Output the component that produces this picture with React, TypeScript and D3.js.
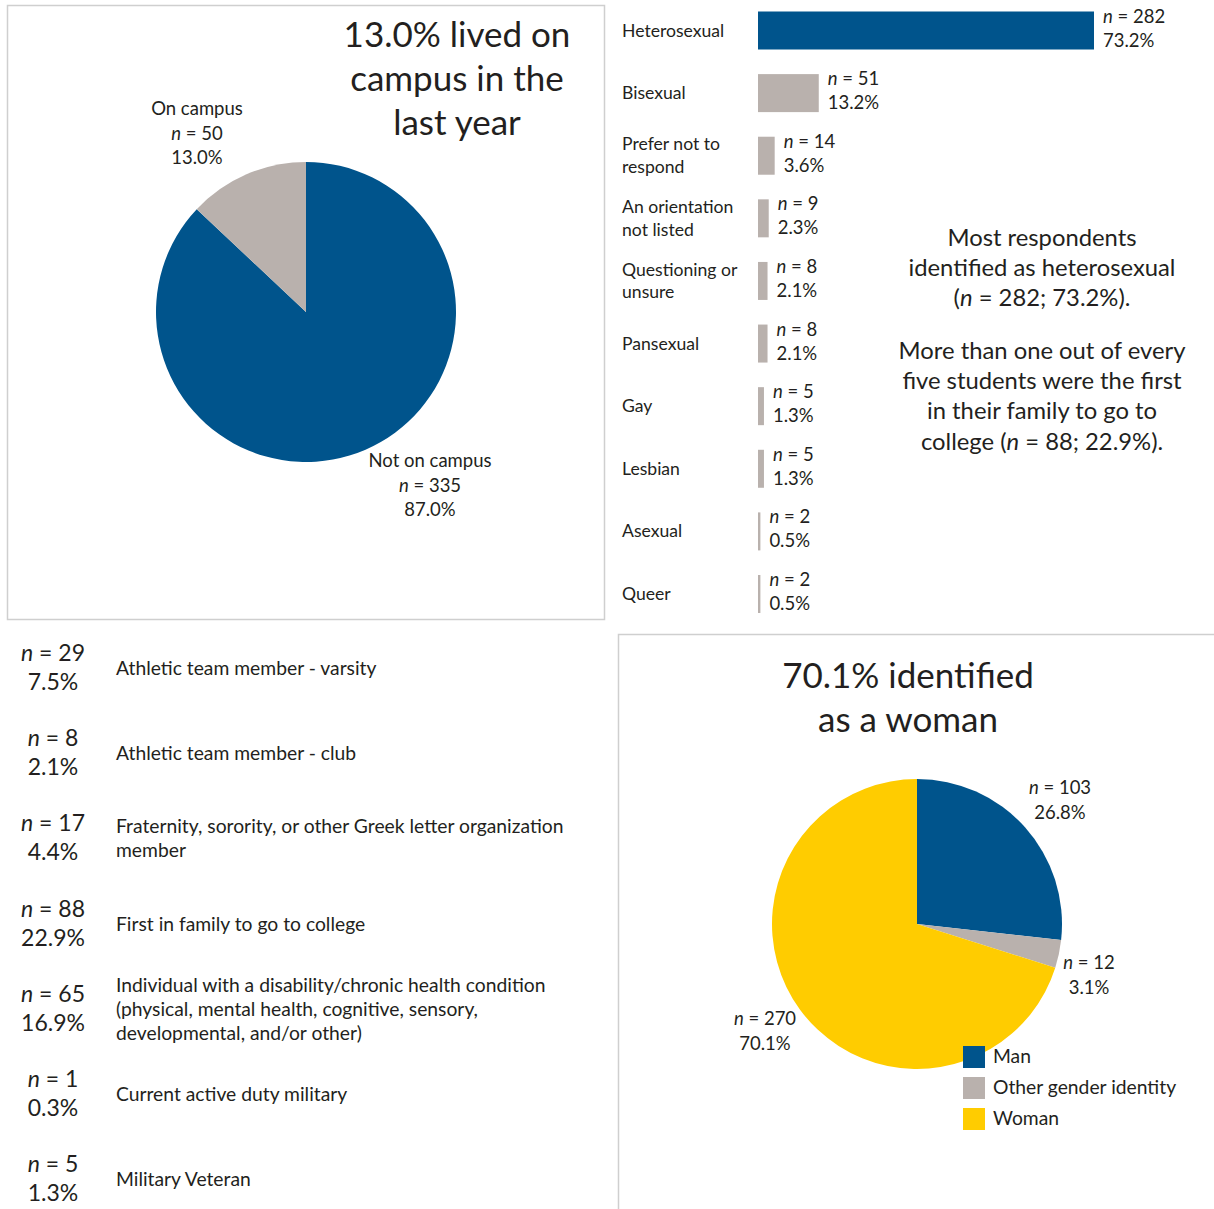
import React from "react";
import * as d3 from "d3";

const housingLabels = ["Not on campus", "On campus"];
const housingN = [335, 50];
const housingPct = ["87.0%", "13.0%"];

const orientationLabels = [
  ["Heterosexual"],
  ["Bisexual"],
  ["Prefer not to", "respond"],
  ["An orientation", "not listed"],
  ["Questioning or", "unsure"],
  ["Pansexual"],
  ["Gay"],
  ["Lesbian"],
  ["Asexual"],
  ["Queer"],
];
const orientationN = [282, 51, 14, 9, 8, 8, 5, 5, 2, 2];
const orientationPct = ["73.2%", "13.2%", "3.6%", "2.3%", "2.1%", "2.1%", "1.3%", "1.3%", "0.5%", "0.5%"];

const identityLabels = [
  ["Athletic team member - varsity"],
  ["Athletic team member - club"],
  ["Fraternity, sorority, or other Greek letter organization", "member"],
  ["First in family to go to college"],
  ["Individual with a disability/chronic health condition", "(physical, mental health, cognitive, sensory,", "developmental, and/or other)"],
  ["Current active duty military"],
  ["Military Veteran"],
];
const identityN = [29, 8, 17, 88, 65, 1, 5];
const identityPct = ["7.5%", "2.1%", "4.4%", "22.9%", "16.9%", "0.3%", "1.3%"];

const genderLabels = ["Man", "Other gender identity", "Woman"];
const genderN = [103, 12, 270];
const genderPct = ["26.8%", "3.1%", "70.1%"];

const BLUE = "#00548C";
const GRAY = "#B9B1AD";
const YELLOW = "#FFCC00";
const INK = "#231F20";
const FONT = "Lato, 'Open Sans', sans-serif";

function NText({ x, y, n, size, anchor = "middle" }: any) {
  return (
    <text x={x} y={y} fontSize={size} textAnchor={anchor} fill={INK}>
      <tspan fontStyle="italic">n</tspan>
      <tspan>{" = " + n}</tspan>
    </text>
  );
}

export default function App() {
  const pie = d3.pie<number>().sort(null).value((d) => d);
  const h = pie(housingN);
  const arc1 = d3.arc<any>().innerRadius(0).outerRadius(150);
  const c1 = { x: 306, y: 312 };
  const housingColors = [BLUE, GRAY];
  const housingLabelPos = [
    { x: 430, y: 467 },
    { x: 197, y: 115 },
  ];

  const xBar = d3.scaleLinear().domain([0, 282]).range([0, 336]);
  const yBar = d3.scalePoint<number>().domain(d3.range(orientationN.length)).range([30.5, 594]);
  const barX0 = 758;
  const barH = 38;

  const yId = d3.scalePoint<number>().domain(d3.range(identityN.length)).range([668, 1179]);

  const g = pie(genderN);
  const arc2 = d3.arc<any>().innerRadius(0).outerRadius(145);
  const c2 = { x: 917, y: 924 };
  const genderColors = [BLUE, GRAY, YELLOW];
  const genderLabelPos = [
    { x: 1060, y: 794 },
    { x: 1089, y: 969 },
    { x: 765, y: 1025 },
  ];

  return (
    <svg
      width={1214}
      height={1209}
      style={{ position: "absolute", left: 0, top: 0, background: "#fff" }}
      fontFamily={FONT}
    >
      <rect x={0} y={0} width={1214} height={1209} fill="#fff" />
      <rect x={7.5} y={5.5} width={597} height={614} fill="none" stroke="#CFCFCF" strokeWidth={1.5} />
      <path d="M618.5,1209 V634.5 H1214" fill="none" stroke="#CFCFCF" strokeWidth={1.5} />

      <text fontSize={35} textAnchor="middle" fill={INK}>
        {["13.0% lived on", "campus in the", "last year"].map((t, i) => (
          <tspan key={i} x={457} y={47 + i * 44}>{t}</tspan>
        ))}
      </text>
      <g transform={`translate(${c1.x},${c1.y})`}>
        {h.map((d, i) => (
          <path key={i} d={arc1(d) as string} fill={housingColors[i]} />
        ))}
      </g>
      {housingLabels.map((lab, i) => (
        <g key={i}>
          <text x={housingLabelPos[i].x} y={housingLabelPos[i].y} fontSize={18.5} textAnchor="middle" fill={INK}>{lab}</text>
          <NText x={housingLabelPos[i].x} y={housingLabelPos[i].y + 24.5} n={housingN[i]} size={18.5} />
          <text x={housingLabelPos[i].x} y={housingLabelPos[i].y + 49} fontSize={18.5} textAnchor="middle" fill={INK}>{housingPct[i]}</text>
        </g>
      ))}

      {orientationN.map((n, i) => {
        const cy = yBar(i) as number;
        const lines = orientationLabels[i];
        const w = xBar(n);
        const lx = barX0 + w + 9;
        return (
          <g key={i}>
            <text fontSize={17.6} fill={INK}>
              {lines.map((t, j) => (
                <tspan key={j} x={622} y={cy + 6 + (j - (lines.length - 1) / 2) * 22.5}>{t}</tspan>
              ))}
            </text>
            <rect x={barX0} y={cy - barH / 2} width={w} height={barH} fill={i === 0 ? BLUE : GRAY} />
            <NText x={lx} y={cy - 8} n={n} size={18.5} anchor="start" />
            <text x={lx} y={cy + 16} fontSize={18.5} fill={INK}>{orientationPct[i]}</text>
          </g>
        );
      })}
      <text fontSize={23.8} textAnchor="middle" fill={INK}>
        <tspan x={1042} y={246}>Most respondents</tspan>
        <tspan x={1042} y={276}>identified as heterosexual</tspan>
        <tspan x={1042} y={306}>(<tspan fontStyle="italic">n</tspan> = 282; 73.2%).</tspan>
        <tspan x={1042} y={359}>More than one out of every</tspan>
        <tspan x={1042} y={389}>five students were the first</tspan>
        <tspan x={1042} y={419}>in their family to go to</tspan>
        <tspan x={1042} y={450}>college (<tspan fontStyle="italic">n</tspan> = 88; 22.9%).</tspan>
      </text>

      {identityN.map((n, i) => {
        const cy = yId(i) as number;
        const lines = identityLabels[i];
        return (
          <g key={i}>
            <NText x={53} y={cy - 7} n={n} size={23} />
            <text x={53} y={cy + 22} fontSize={23} textAnchor="middle" fill={INK}>{identityPct[i]}</text>
            <text fontSize={19.3} fill={INK}>
              {lines.map((t, j) => (
                <tspan key={j} x={116} y={cy + 7 + (j - (lines.length - 1) / 2) * 24}>{t}</tspan>
              ))}
            </text>
          </g>
        );
      })}

      <text fontSize={35} textAnchor="middle" fill={INK}>
        <tspan x={908} y={688}>70.1% identified</tspan>
        <tspan x={908} y={732}>as a woman</tspan>
      </text>
      <g transform={`translate(${c2.x},${c2.y})`}>
        {g.map((d, i) => (
          <path key={i} d={arc2(d) as string} fill={genderColors[i]} />
        ))}
      </g>
      {genderN.map((n, i) => (
        <g key={i}>
          <NText x={genderLabelPos[i].x} y={genderLabelPos[i].y} n={n} size={18.5} />
          <text x={genderLabelPos[i].x} y={genderLabelPos[i].y + 24.5} fontSize={18.5} textAnchor="middle" fill={INK}>{genderPct[i]}</text>
        </g>
      ))}
      {genderLabels.map((lab, i) => (
        <g key={i}>
          <rect x={963} y={1046 + i * 31} width={22} height={22} fill={genderColors[i]} />
          <text x={993} y={1063 + i * 31} fontSize={19.3} fill={INK}>{lab}</text>
        </g>
      ))}
    </svg>
  );
}
